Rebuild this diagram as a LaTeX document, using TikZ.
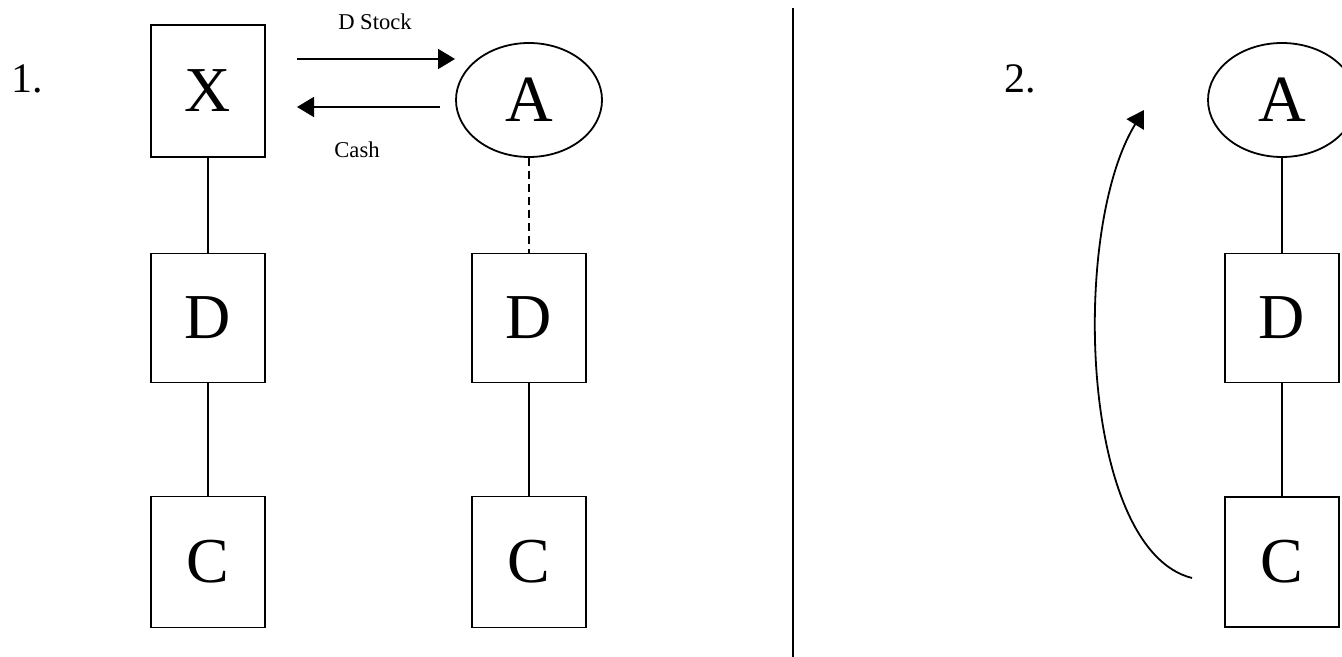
\documentclass[tikz,border=0pt]{standalone}
\usepackage{fontspec}
\setmainfont{Liberation Serif}
\usetikzlibrary{shapes.geometric, arrows.meta}
\begin{document}
\begin{tikzpicture}[x=0.5pt, y=-0.5pt, line width=0.9pt,
    box/.style={draw, rectangle, minimum width=57pt, minimum height=64.5pt, inner sep=0pt, font=\fontsize{32}{36}\selectfont},
    oval/.style={draw, ellipse, minimum width=73pt, minimum height=57pt, inner sep=0pt, font=\fontsize{33}{36}\selectfont},
    flow/.style={-{Triangle[length=8.5pt, width=10pt]}},
    small/.style={font=\fontsize{11.3}{13}\selectfont},
    num/.style={font=\fontsize{21}{24}\selectfont}]
    \useasboundingbox (0,0) rectangle (1342,657);

    % panel 1
    \node[num] (one) at (27,79) {1.};
    \node[box, minimum height=66pt] (X) at (208,91) {X};
    \node[box] (D1) at (208,318) {D};
    \node[box, minimum height=65.5pt] (C1) at (208,562) {C};
    \draw (X) -- (D1);
    \draw (D1) -- (C1);

    \node[oval] (A1) at (529,100) {A};
    \node[box] (D2) at (529,318) {D};
    \node[box, minimum height=65.5pt] (C2) at (529,562) {C};
    \draw[dash pattern=on 4pt off 2.5pt] (A1) -- (D2);
    \draw (D2) -- (C2);

    \coordinate (stockS) at (297,59);
    \coordinate (stockE) at (455,59);
    \coordinate (cashS) at (440,107);
    \coordinate (cashE) at (297,107);
    \draw[flow] (stockS) -- (stockE);
    \draw[flow] (cashS) -- (cashE);
    \node[small] (stock) at (375,22) {D Stock};
    \node[small] (cash) at (357,150) {Cash};

    % divider
    \coordinate (divT) at (793,8);
    \coordinate (divB) at (793,657);
    \draw (divT) -- (divB);

    % panel 2
    \node[num] (two) at (1020,79) {2.};
    \node[oval, minimum width=74pt] (A3) at (1282,100) {A};
    \node[box] (D3) at (1282,318) {D};
    \node[box, minimum height=65pt] (C3) at (1282,562) {C};
    \draw (A3) -- (D3);
    \draw (D3) -- (C3);

    \coordinate (moveS) at (1192,578);
    \coordinate (moveE) at (1144,110);
    \draw[flow] (moveS) .. controls (1080,550) and (1070,230) .. (moveE);
\end{tikzpicture}
\end{document}
